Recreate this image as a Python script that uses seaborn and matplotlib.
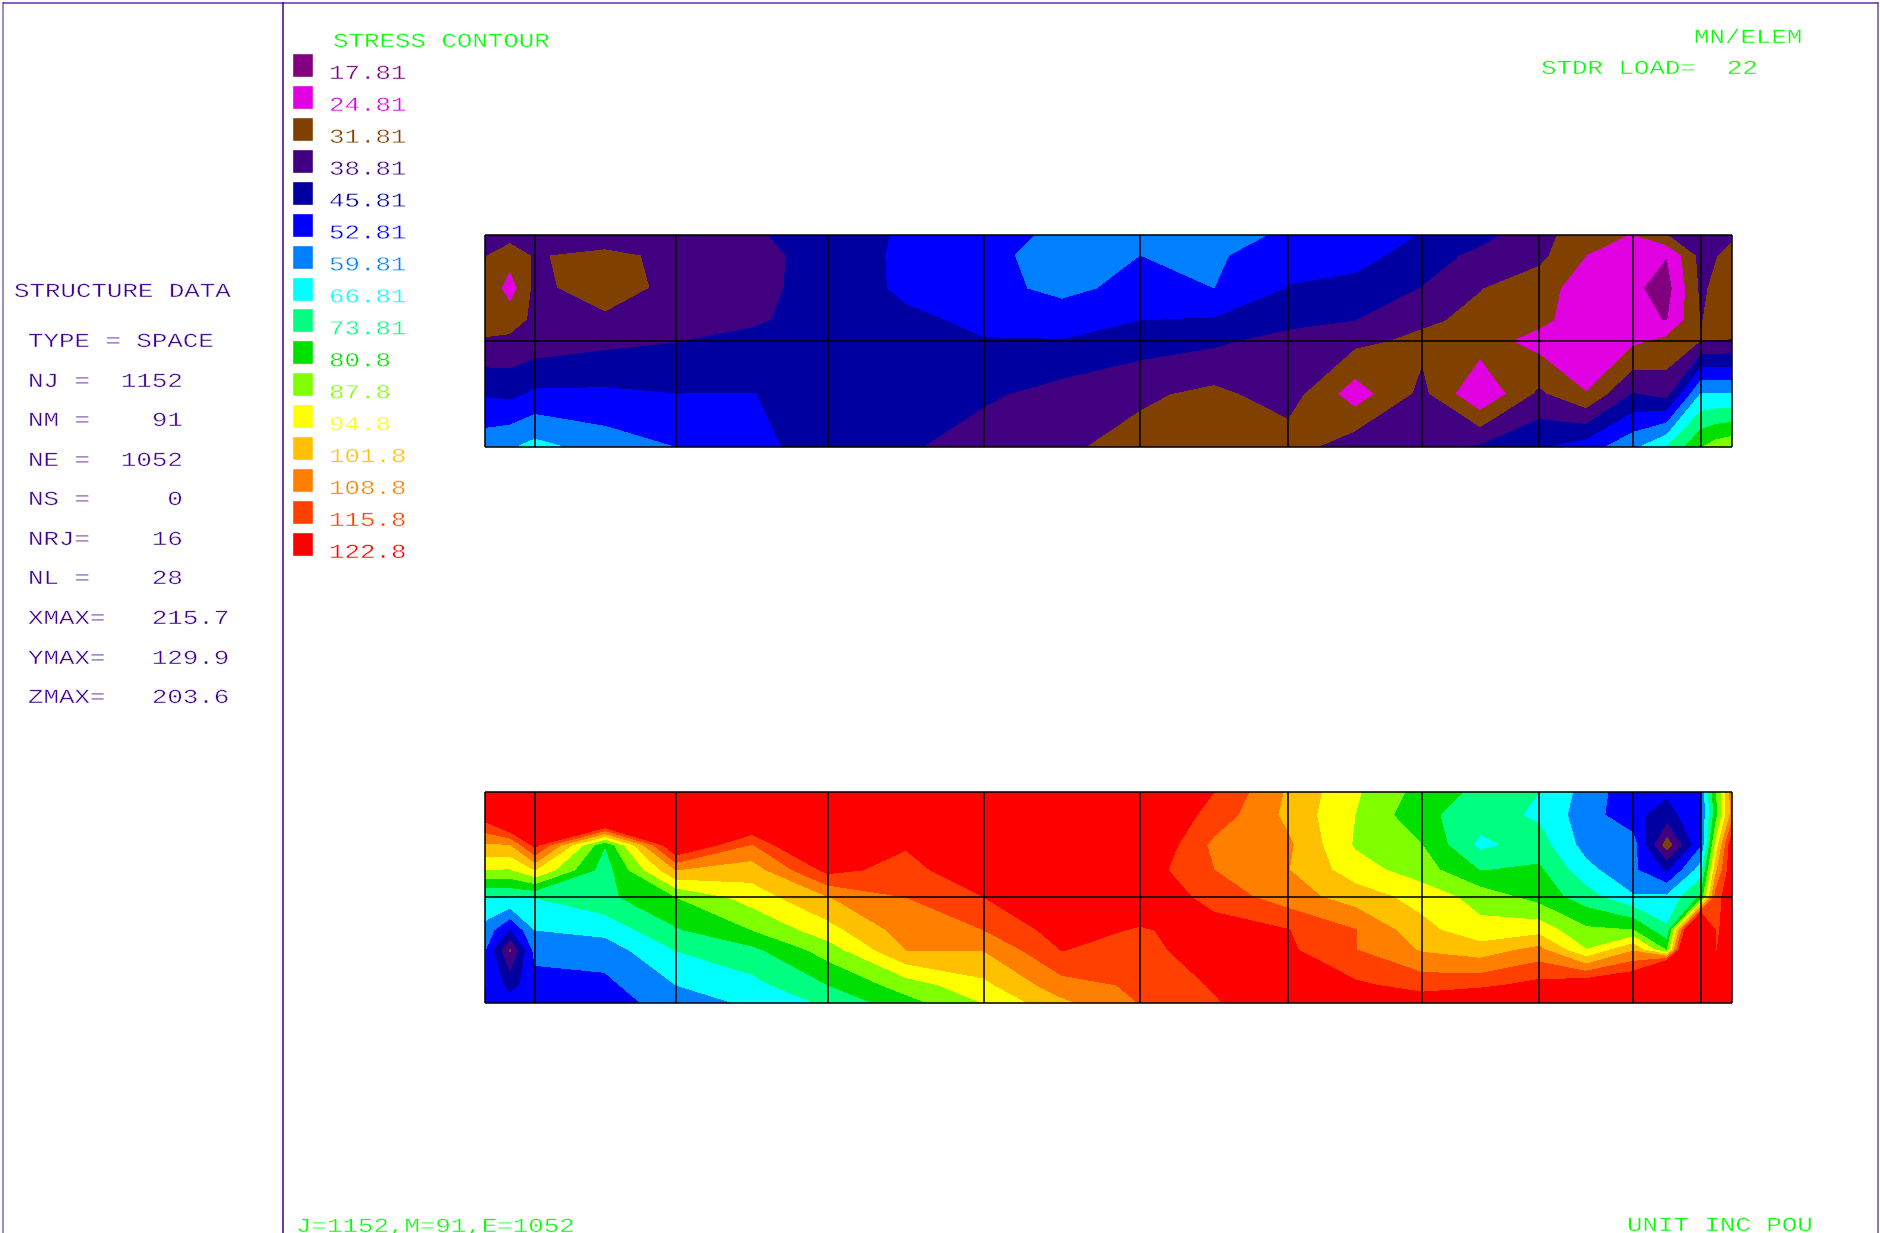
import matplotlib
matplotlib.use("Agg")
import matplotlib.pyplot as plt
import matplotlib.patheffects as pe
from matplotlib.transforms import Affine2D
import numpy as np
import seaborn as sns

legend_labels = ["17.81", "24.81", "31.81", "38.81", "45.81", "52.81", "59.81", "66.81",
                 "73.81", "80.8", "87.8", "94.8", "101.8", "108.8", "115.8", "122.8"]
band_colors = ["#800080", "#e000e0", "#804000", "#400080", "#0000a0", "#0000ff", "#0080ff", "#00ffff",
               "#00ff80", "#00e000", "#80ff00", "#ffff00", "#ffc000", "#ff8000", "#ff4000", "#ff0000"]

data_lines = ["TYPE = SPACE", "NJ =  1152", "NM =    91", "NE =  1052", "NS =     0",
              "NRJ=    16", "NL =    28", "XMAX=   215.7", "YMAX=   129.9", "ZMAX=   203.6"]

# node positions, picture pixels
grid_x = [485, 535, 676, 828, 984, 1140, 1288, 1422, 1539, 1633, 1701, 1732]
node_x = [485, 510, 535, 605, 676, 752, 828, 906, 984, 1062, 1140, 1214,
          1288, 1355, 1422, 1480, 1539, 1586, 1633, 1667, 1701, 1716, 1732]
top_y = [235, 255, 288, 320, 341, 394, 447]
bot_y = [792, 815, 845, 870, 897, 930, 950, 985, 1003]
top_lines = [235, 341, 447]
bot_lines = [792, 897, 1003]

# upper contour plot, stress at the nodes
top_0 = [34, 34, 34, 38, 37, 38.2, 41, 47, 50.5, 54, 56, 56, 51.5, 48.5, 45.5, 41, 34, 28, 24.3, 31.5, 36, 35, 33]
top_1 = [32, 28, 32.5, 29, 34.5, 37, 41, 47.5, 51, 55.5, 52.8, 54, 48, 49, 42, 37, 33.5, 24.8, 20, 18, 34, 32, 29]
top_2 = [31, 21, 33.5, 28, 34, 36.5, 42, 47, 50, 55, 50, 52.8, 45.5, 43, 38.5, 32, 28, 21, 19, 15, 33, 30, 29]
top_3 = [28, 29, 33, 33, 35.5, 37.5, 42.5, 44.5, 47, 48, 45.8, 45, 41, 38.8, 33, 30, 26.5, 21, 19.5, 17.5, 32, 29, 29]
top_4 = [32.5, 33, 34.5, 37, 38.5, 41, 43, 44, 45.5, 45.5, 42, 40, 36, 33.5, 30, 28, 22, 20, 23, 26.6, 31.5, 31.8, 32]
top_5 = [45, 44, 47, 47, 45.8, 45.9, 44, 42, 40, 36, 33, 30, 35, 21, 33.5, 18, 33, 25, 39, 36, 60, 60, 60]
top_6 = [57, 59, 62, 56.5, 52.7, 47.5, 43, 39.8, 35, 33, 29, 26.5, 28, 36, 37, 39.5, 45, 49, 58, 66.8, 80.5, 84, 86]

# lower contour plot
bot_0 = [133, 165, 125, 180, 130, 130, 140, 130, 130, 130, 125, 115.8, 100.8, 88.8, 78, 72, 66.8, 57, 48, 47, 52.8, 80, 105]
bot_1 = [120, 135, 135, 146, 130, 130, 130, 130, 130, 130, 125, 113, 100, 87.8, 75.5, 70, 65.5, 56, 48, 42, 52.8, 78, 105]
bot_2 = [100.8, 101, 118, 74, 125, 108, 134, 116.5, 125, 130, 125, 107, 103, 87, 80.8, 65, 70, 57, 56, 27, 52, 90, 122]
bot_3 = [87.8, 87, 94.8, 70, 101.8, 98, 118, 113, 122, 124, 120, 108.8, 102, 91, 84, 73.5, 75, 62, 54, 44.5, 63, 100, 122]
bot_4 = [66.8, 66.8, 67, 72, 80.8, 91, 101.5, 108.8, 115.8, 122, 122, 113, 105, 98.5, 92, 85, 78, 70, 60.5, 61, 75, 112, 122]
bot_5 = [57, 45, 59.8, 62, 73, 80.8, 92, 105, 108.8, 119, 115, 119, 116, 109, 97, 90, 92, 82, 80.8, 68, 160, 113, 125]
bot_6 = [53, 30, 55, 56, 67, 72, 84, 101.8, 102, 116, 112, 122, 117, 109, 101, 98, 104, 88, 101, 80, 180, 115, 125]
bot_7 = [53, 43, 50, 51, 59.8, 64.5, 73.8, 84, 93, 106, 110, 116.5, 119, 117, 113, 114, 118, 122, 125, 200, 130, 125, 125]
bot_8 = [48, 49, 47, 49.5, 56, 61, 68, 78, 88, 100, 109, 115, 122, 122, 120, 124, 125, 148, 126, 240, 130, 130, 130]


class WideText(pe.AbstractPathEffect):
    # plotter lettering is wide and thin, stretch the font and shave the strokes
    def draw_path(self, renderer, gc, tpath, affine, rgbFace=None):
        wide = Affine2D().scale(1.29, 1) + affine
        renderer.draw_path(gc, tpath, wide, rgbFace)
        gc0 = renderer.new_gc()
        gc0.copy_properties(gc)
        gc0.set_foreground("white")
        gc0.set_linewidth(0.35)
        renderer.draw_path(gc0, tpath, wide, None)
        gc0.restore()


sns.set_style("white")
plt.rcParams['font.family'] = ['Liberation Mono', 'DejaVu Sans']
palette = sns.color_palette(band_colors)
levels = [0] + [float(v) for v in legend_labels[:-1]] + [1000]

fig = plt.figure(figsize=(18.81, 12.33), dpi=100)
ax = fig.add_axes([0, 0, 1, 1])
ax.set_xlim(0, 1881)
ax.set_ylim(1233, 0)
ax.axis("off")

ax.contourf(node_x, top_y, np.array([top_0, top_1, top_2, top_3, top_4, top_5, top_6]),
            levels=levels, colors=palette)
ax.contourf(node_x, bot_y, np.array([bot_0, bot_1, bot_2, bot_3, bot_4, bot_5, bot_6, bot_7, bot_8]),
            levels=levels, colors=palette)

for y in [top_lines, bot_lines]:
    ax.vlines(grid_x, y[0], y[-1], color="black", lw=1.1)
    ax.hlines(y, grid_x[0], grid_x[-1], color="black", lw=1.1)

# page frame
frame = "#400090"
ax.vlines([283], 2, 1233, color=frame, lw=1.1)
ax.vlines([3], 2, 1233, color=frame, lw=1.1, alpha=0.6)
ax.vlines([1878], 2, 1233, color=frame, lw=1.1, alpha=0.7)
ax.hlines([2.5], 3, 1878, color=frame, lw=1.1, alpha=0.8)


def label(x, y, s, color):
    ax.text(x, y, s, color=color, fontsize=14.4, ha="left", va="baseline",
            path_effects=[WideText()])


legend_y = 65 + 31.93 * np.arange(len(legend_labels))
ax.bar([302.5] * len(legend_y), 24, width=21.5, bottom=legend_y - 12, color=palette)
for y, s, c in zip(legend_y, legend_labels, palette):
    label(329, y + 14, s, c)

text_purple = "#400090"
text_green = "#00ff00"
label(333, 47, "STRESS CONTOUR", text_green)
label(1694, 43, "MN/ELEM", text_green)
label(1541, 74, "STDR LOAD=  22", text_green)
label(296, 1232, "J=1152,M=91,E=1052", text_green)
label(1627, 1231, "UNIT INC POU", text_green)

label(14, 297, "STRUCTURE DATA", text_purple)
for y, s in zip([347, 387, 426, 466, 505, 545, 584, 624, 664, 703], data_lines):
    label(28, y, s, text_purple)

fig.savefig("out.png", dpi=100, facecolor="white")
